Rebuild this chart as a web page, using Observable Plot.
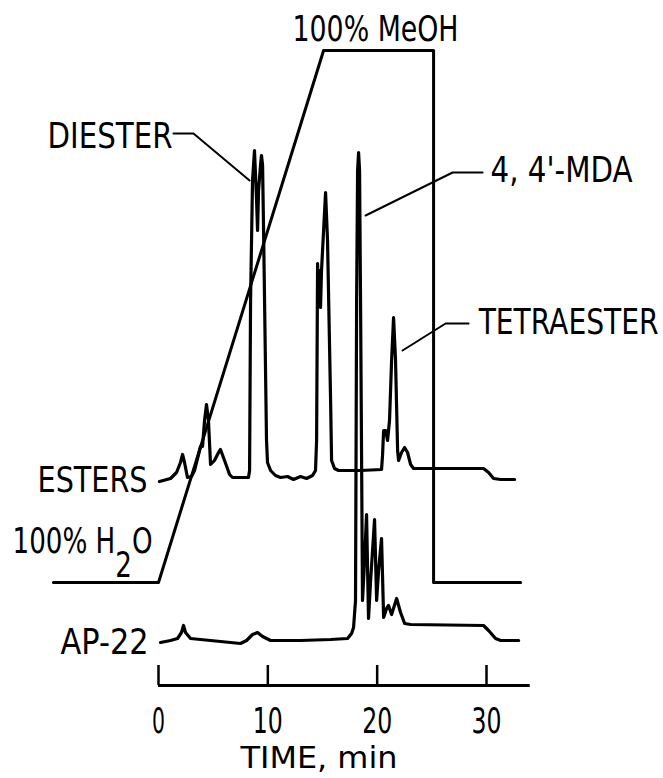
<!DOCTYPE html>
<html>
<head>
<meta charset="utf-8">
<script src="https://cdn.jsdelivr.net/npm/d3@7"></script>
<script src="https://cdn.jsdelivr.net/npm/@observablehq/plot@0.6"></script>
<style>
  html, body { margin: 0; padding: 0; background: #fff; }
  #chart svg { display: block; }
</style>
</head>
<body>
<div id="chart"></div>
<script>
// Time axis (min)
const xTicks = [0, 10, 20, 30];
const axisSpan = [0, 34];

// ESTERS chromatogram: [time (min), detector response (arbitrary, stacked units)]
const esters = [
  [0.09,204],[1.10,207],[1.65,213],[2.01,223],[2.20,231],[2.38,223],[2.65,208],[3.02,209],
  [3.29,215],[3.57,227],[3.84,239],[4.03,239],[4.21,265],[4.39,281],[4.57,265],[4.76,221],
  [5.12,225],[5.49,233],[5.67,236],[6.04,225],[6.50,211],[6.77,208],[8.23,208],[8.33,215],
  [8.42,385],[8.60,505],[8.78,535],[8.97,485],[9.06,455],[9.15,495],[9.33,520],[9.42,530],
  [9.52,520],[9.61,455],[9.70,385],[9.88,245],[9.97,223],[10.25,215],[10.70,210],[11.16,208],
  [11.80,209],[12.35,206],[12.99,209],[13.54,207],[14.09,210],[14.36,215],[14.46,245],[14.55,422],
  [14.64,380],[14.73,415],[14.82,378],[14.91,415],[15.10,455],[15.28,493],[15.46,445],[15.74,285],[15.83,225],
  [16.10,217],[16.47,215],[18.48,215],[20.40,216],[20.49,230],[20.59,255],[20.77,255],[20.95,245],
  [21.13,265],[21.32,325],[21.50,368],[21.68,325],[21.87,235],[21.96,225],[22.23,233],[22.51,238],
  [22.78,233],[23.06,221],[23.33,217],[29.73,217],[30.19,213],[30.65,207],[31.29,206],[32.57,206]
];

// AP-22 chromatogram
const ap22 = [
  [0.18,43],[1.10,45],[1.74,47],[2.10,53],[2.29,60],[2.47,53],[2.93,47],[4.76,45],
  [7.50,42],[8.05,45],[8.60,51],[9.06,53],[9.52,49],[10.25,45],[12.99,45],[15.74,46],
  [17.29,47],[17.66,52],[17.84,58],[18.02,85],[18.12,385],[18.21,515],[18.30,533],[18.39,515],
  [18.48,385],[18.57,235],[18.66,85],[18.85,125],[19.03,171],[19.21,67],[19.40,105],[19.76,166],
  [19.95,85],[20.13,115],[20.40,147],[20.59,68],[20.86,77],[21.04,80],[21.32,71],[21.78,87],
  [22.14,73],[22.51,62],[23.06,61],[29.73,60],[30.19,55],[30.83,47],[31.29,45],[32.94,45]
];

// Solvent gradient program: [time (min), % MeOH]
const gradientTimes = [-9.61, 0, 15.10, 25.16, 25.16, 33.12];
const gradientPct   = [0, 0, 100, 100, 0, 0];

// Label leader lines: [time, response]
const leaderDiester = [[1.37,552],[3.20,552],[8.33,505]];
const leaderMDA     = [[29.64,513],[26.90,513],[18.94,470]];
const leaderTetra   = [[28.36,362],[26.26,362],[22.32,335]];

// Labels ("H2O" is typeset with a subscript 2 below)
const labelTexts   = ["100% MeOH","DIESTER","4, 4'-MDA","TETRAESTER","ESTERS","100% H2O","AP-22"];
const labelTimes   = [19.85, 1.28, 30.37, 29.28, -1.0, -0.55, -0.91];
const labelLevels  = [656, 549, 515, 363, 205, 144, 43];
const labelAnchors = ["middle","end","start","start","end","end","end"];
const axisTitle = "TIME, min";

// ---- styling: rendered widths (px) of the condensed lettering ----
const textWidths = {
  "100% MeOH": 166, "DIESTER": 125, "4, 4'-MDA": 142, "TETRAESTER": 180, "ESTERS": 110,
  "100% H2O": 140, "AP-22": 88, "TIME, min": 157,
  "0": 13, "10": 30, "20": 30, "30": 30
};

// ---- build tables ----
const GRAD_BASE = 103, GRAD_SPAN = 532; // where 0 % and 100 % MeOH sit on the stacked scale
const gradient = gradientTimes.map((t, i) => ({t, v: GRAD_BASE + gradientPct[i] / 100 * GRAD_SPAN}));
const leaders = [leaderDiester, leaderMDA, leaderTetra].flatMap((pts, k) => pts.map(([t, v]) => ({t, v, k})));
const labels = labelTexts.map((text, i) => ({text, t: labelTimes[i], v: labelLevels[i], anchor: labelAnchors[i]}));

const FONT = "'DejaVu Sans Condensed', 'DejaVu Sans', sans-serif";

const textMarks = ["start", "middle", "end"].map(a =>
  Plot.text(labels.filter(d => d.anchor === a), {
    x: "t", y: "v", text: "text", textAnchor: a, fill: "#000"
  })
);

const chart = Plot.plot({
  width: 663,
  height: 778,
  marginTop: 0,
  marginBottom: 93,
  marginLeft: 0,
  marginRight: 0,
  style: {fontFamily: FONT, fontSize: "35px", fontStretch: "condensed", background: "#fff", color: "#000", overflow: "visible"},
  x: {domain: [0, 30], range: [158, 486]},
  y: {domain: [0, 685], range: [685, 0], axis: null},
  marks: [
    // axis baseline and upward ticks
    Plot.ruleY([0], {x1: axisSpan[0], x2: axisSpan[1], strokeWidth: 3, stroke: "#000"}),
    Plot.ruleX(xTicks, {x: d => d, y1: 0, y2: 20, strokeWidth: 2.5, stroke: "#000"}),
    Plot.axisX({ticks: xTicks, tickSize: 0, tickPadding: 23, label: null, tickFormat: d => String(d)}),
    Plot.text([axisTitle], {x: 14.68, y: -73, text: d => d, fontSize: 31, fill: "#000"}),
    // gradient program
    Plot.line(gradient, {x: "t", y: "v", stroke: "#000", strokeWidth: 3, strokeLinejoin: "round"}),
    // chromatograms
    Plot.line(esters, {x: d => d[0], y: d => d[1], stroke: "#000", strokeWidth: 3.2, strokeLinejoin: "round", strokeLinecap: "round"}),
    Plot.line(ap22, {x: d => d[0], y: d => d[1], stroke: "#000", strokeWidth: 3.2, strokeLinejoin: "round", strokeLinecap: "round"}),
    // leaders
    Plot.line(leaders, {x: "t", y: "v", z: "k", stroke: "#000", strokeWidth: 2}),
    ...textMarks
  ]
});

// squeeze the lettering to the narrow widths of the original typesetting
chart.querySelectorAll("text").forEach(el => {
  const s = el.textContent;
  const w = textWidths[s];
  if (s === "100% H2O") {
    el.textContent = "";
    el.appendChild(document.createTextNode("100% H"));
    const sub = document.createElementNS("http://www.w3.org/2000/svg", "tspan");
    sub.setAttribute("dy", "0.68em");
    sub.textContent = "2";
    const o = document.createElementNS("http://www.w3.org/2000/svg", "tspan");
    o.setAttribute("dy", "-0.68em");
    o.textContent = "O";
    el.appendChild(sub);
    el.appendChild(o);
  }
  if (w) {
    el.setAttribute("textLength", w);
    el.setAttribute("lengthAdjust", "spacingAndGlyphs");
  }
});

document.getElementById("chart").appendChild(chart);
</script>
</body>
</html>
